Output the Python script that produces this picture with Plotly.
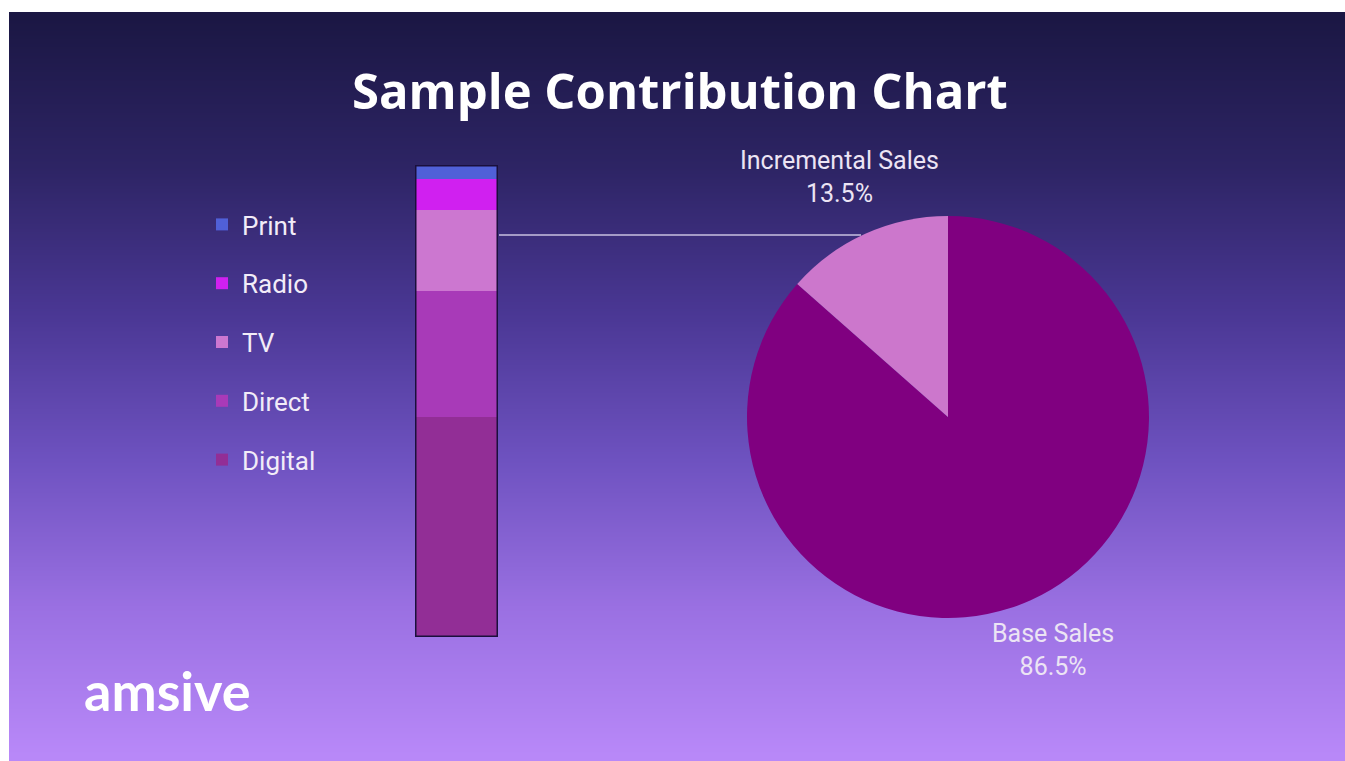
import math
import plotly.graph_objects as go

# ---- data ----
channels = ["Digital", "Direct", "TV", "Radio", "Print"]
channel_values = [6.3, 3.6, 2.3, 0.9, 0.4]           # share of incremental sales (%)
bar_colors = ["#922e96", "#a83ab8", "#cc77d0", "#d020f0", "#5060d8"]
pie_labels = ["Base Sales", "Incremental Sales"]
pie_values = [86.5, 13.5]
pie_colors = ["#800080", "#cc77cc"]

W, H = 1345, 761
def px(x): return x / W
def py(y): return 1 - y / H

fig = go.Figure()

# background gradient (styling only)
bg_stops = [(0.0, "#b888f8"), (0.2, "#9a70e2"), (0.4, "#6e52c0"),
            (0.6, "#4a3794"), (0.8, "#2d2464"), (1.0, "#1b1744")]
nrows = 60
fig.add_trace(go.Heatmap(
    z=[[i / (nrows - 1)] * 2 for i in range(nrows)],
    x=[0, 1], y=list(range(nrows)),
    colorscale=[[s, c] for s, c in bg_stops], showscale=False,
    zsmooth="best", hoverinfo="skip", xaxis="x", yaxis="y"))

# stacked bar
n = len(channels)
for i, (name, val, col) in enumerate(zip(channels, channel_values, bar_colors)):
    fig.add_trace(go.Bar(
        x=[0], y=[val], name=name, marker=dict(color=col, line=dict(width=0)),
        width=1, xaxis="x2", yaxis="y2", legendgroup=name, legendrank=n - i,
        showlegend=True))

total = sum(channel_values)

# pie (counterclockwise: base sweeps from top, incremental ends at top on the left)
fig.add_trace(go.Pie(
    labels=pie_labels, values=pie_values, marker=dict(colors=pie_colors, line=dict(width=0)),
    sort=False, direction="counterclockwise", rotation=0, textinfo="none",
    showlegend=False, hoverinfo="label+percent",
    domain=dict(x=[px(747), px(1149)], y=[py(618), py(216)])))

# pie labels computed from slice mid-angles (clockwise-from-top angle = cumulative fraction)
cx, cy, R = (747 + 1149) / 2, (216 + 618) / 2, 201
annotations = []
start = 0.0
tot_p = sum(pie_values)
for lab, v, rf in zip(pie_labels, pie_values, [1.27, 1.31]):
    frac = v / tot_p
    mid = start + frac / 2
    ang = math.pi / 2 - 2 * math.pi * mid
    lx = cx + rf * R * math.cos(ang)
    ly = cy - rf * R * math.sin(ang)
    annotations.append(dict(
        x=px(lx), y=py(ly), xref="paper", yref="paper", showarrow=False,
        text=f"{lab}<br>{v:.1f}%", align="center", xanchor="center", yanchor="middle",
        font=dict(family="Roboto", size=25, color="#ece4f4")))
    start += frac

annotations.append(dict(
    x=px(680), y=py(90), xref="paper", yref="paper", showarrow=False,
    text="<b>Sample Contribution Chart</b>", xanchor="center", yanchor="middle",
    font=dict(family="Open Sans", size=49, color="white")))
annotations.append(dict(
    x=px(82), y=py(690), xref="paper", yref="paper", showarrow=False,
    text="<b>amsive</b>", xanchor="left", yanchor="middle",
    font=dict(family="Lato", size=54, color="white")))

shapes = [
    dict(type="rect", xref="x2", yref="y2", x0=-0.5, x1=0.5, y0=0, y1=total,
         line=dict(color="#1a0f3c", width=3), fillcolor="rgba(0,0,0,0)", layer="above"),
    dict(type="line", xref="paper", yref="paper", x0=px(499), x1=px(861),
         y0=py(235), y1=py(235), line=dict(color="#c8c0e0", width=1.5)),
]

fig.update_layout(
    width=W, height=H, margin=dict(l=0, r=0, t=0, b=0),
    paper_bgcolor="white", plot_bgcolor="rgba(0,0,0,0)",
    barmode="stack", bargap=0,
    xaxis=dict(domain=[px(9), 1], range=[0, 1], visible=False, fixedrange=True),
    yaxis=dict(domain=[0, py(12)], range=[-0.5, nrows - 0.5], visible=False, fixedrange=True),
    xaxis2=dict(domain=[px(415), px(498)], range=[-0.5, 0.5], visible=False, anchor="y2"),
    yaxis2=dict(domain=[py(637), py(165)], range=[0, total], visible=False, anchor="x2"),
    legend=dict(x=px(202), y=py(201), xanchor="left", yanchor="top",
                traceorder="grouped", tracegroupgap=22,
                font=dict(family="Roboto", size=26, color="#f2ecf8"),
                bgcolor="rgba(0,0,0,0)"),
    annotations=annotations, shapes=shapes,
)

fig.write_html("out.html")
